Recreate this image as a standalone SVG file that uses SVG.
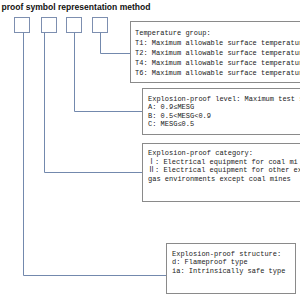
<svg xmlns="http://www.w3.org/2000/svg" width="300" height="300" viewBox="0 0 300 300">
<style>
.title{font-family:"Liberation Sans",Arial,sans-serif;font-weight:bold;font-size:9px;fill:#111}
.sq{fill:#fff;stroke:#7d8fb0;stroke-width:1}
.box{fill:#fff;stroke:#8a8a8a;stroke-width:1}
.conn{fill:none;stroke:#7389ad;stroke-width:1}
.t{font-family:"Liberation Mono","Noto Sans CJK SC",monospace;font-size:7px;fill:#222}
</style>
<rect width="300" height="300" fill="#fff"/>
<text class="title" x="1.5" y="10" textLength="149" lengthAdjust="spacingAndGlyphs">proof symbol representation method</text>
<g id="symbols">
<rect class="sq" x="14.5" y="17.5" width="15" height="15"/>
<rect class="sq" x="41.5" y="17.5" width="15" height="15"/>
<rect class="sq" x="66.5" y="17.5" width="15" height="15"/>
<rect class="sq" x="92.5" y="17.5" width="15" height="15"/>
</g>
<g id="connectors">
<polyline class="conn" points="23.5,32.5 23.5,275.5 166.5,275.5"/>
<polyline class="conn" points="44.5,32.5 44.5,172.5 142.5,172.5"/>
<polyline class="conn" points="74.5,32.5 74.5,111.5 142.5,111.5"/>
<polyline class="conn" points="100.5,32.5 100.5,53.5 130.5,53.5"/>
</g>
<g id="temperature">
<rect class="box" x="130.5" y="21.5" width="180" height="61"/>
<text class="t" x="135" y="35">Temperature group:</text>
<text class="t" x="135" y="45">T1: Maximum allowable surface temperatur</text>
<text class="t" x="135" y="55">T2: Maximum allowable surface temperatur</text>
<text class="t" x="135" y="65">T4: Maximum allowable surface temperatur</text>
<text class="t" x="135" y="75">T6: Maximum allowable surface temperatur</text>
</g>
<g id="level">
<rect class="box" x="142.5" y="88.5" width="170" height="46"/>
<text class="t" x="148" y="100.5">Explosion-proof level: Maximum test s</text>
<text class="t" x="148" y="109">A: 0.9≤MESG</text>
<text class="t" x="148" y="117.5">B: 0.5&lt;MESG&lt;0.9</text>
<text class="t" x="148" y="126">C: MESG≤0.5</text>
</g>
<g id="category">
<rect class="box" x="142.5" y="143.5" width="170" height="58"/>
<text class="t" x="148" y="154.5">Explosion-proof category:</text>
<text class="t" x="148" y="163.5">Ⅰ: Electrical equipment for coal mi</text>
<text class="t" x="148" y="172">Ⅱ: Electrical equipment for other exp</text>
<text class="t" x="148" y="180.5">gas environments except coal mines</text>
</g>
<g id="structure">
<rect class="box" x="166.5" y="243.5" width="129" height="50"/>
<text class="t" x="172" y="255.5">Explosion-proof structure:</text>
<text class="t" x="172" y="264">d: Flameproof type</text>
<text class="t" x="172" y="272.5">ia: Intrinsically safe type</text>
</g>
</svg>
